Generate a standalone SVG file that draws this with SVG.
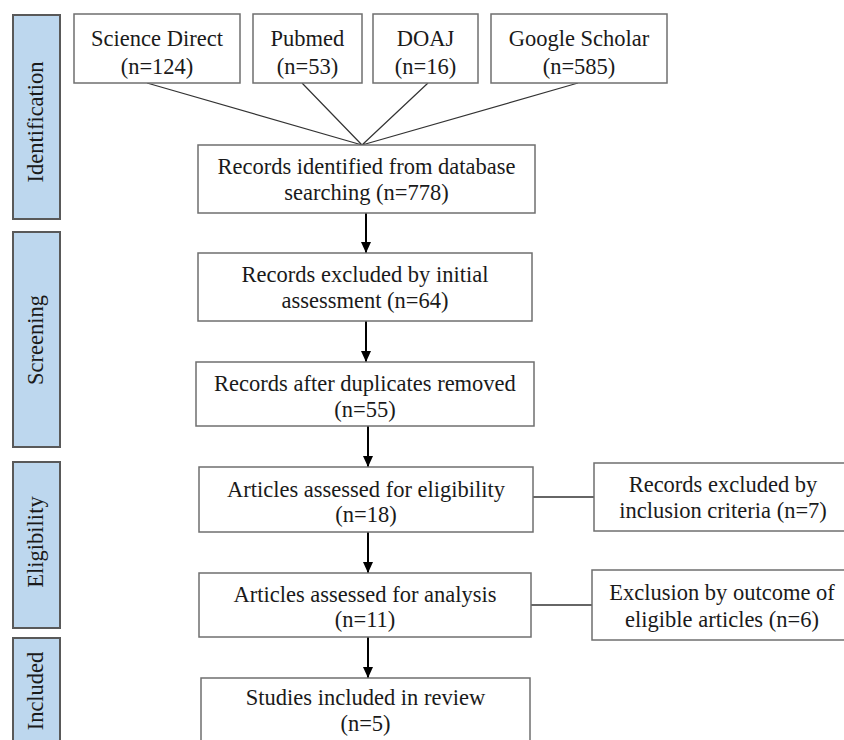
<svg xmlns="http://www.w3.org/2000/svg" width="844" height="740" viewBox="0 0 844 740">
<style>
.band{fill:#bdd7ee;stroke:#595959;stroke-width:2}
.box{fill:#fff;stroke:#6f6f6f;stroke-width:1.5}
text{font-family:"Liberation Serif","Times New Roman","DejaVu Serif",serif;font-size:22.5px;fill:#1a1a1a;text-anchor:middle}
.fan{stroke:#333;stroke-width:1.2;fill:none}
.arr{stroke:#000;stroke-width:2;fill:none}
.side{stroke:#333;stroke-width:1.3;fill:none}
</style>
<defs>
<marker id="ah" markerUnits="userSpaceOnUse" markerWidth="11" markerHeight="10" viewBox="0 0 11 10" refX="11" refY="5" orient="auto">
<path d="M0,0 L11,5 L0,10 z" fill="#000"/>
</marker>
</defs>
<rect width="844" height="740" fill="#fff"/>
<g id="phases">
<g id="band-identification"><rect class="band" x="13" y="15" width="47" height="204"/><text transform="translate(43,122) rotate(-90)">Identification</text></g>
<g id="band-screening"><rect class="band" x="13" y="232" width="47" height="215"/><text transform="translate(43,340) rotate(-90)">Screening</text></g>
<g id="band-eligibility"><rect class="band" x="13" y="462" width="47" height="166"/><text transform="translate(43,542) rotate(-90)">Eligibility</text></g>
<g id="band-included"><rect class="band" x="13" y="638" width="47" height="112"/><text transform="translate(43,691) rotate(-90)">Included</text></g>
</g>
<g id="connectors">
<path class="fan" d="M147,83 L362,145 M302,83 L362,145 M428,83 L362,145 M578,83 L362,145"/>
<line class="arr" x1="366" y1="213" x2="366" y2="253" marker-end="url(#ah)"/>
<line class="arr" x1="366" y1="321" x2="366" y2="362" marker-end="url(#ah)"/>
<line class="arr" x1="368" y1="426" x2="368" y2="467" marker-end="url(#ah)"/>
<line class="arr" x1="368" y1="532" x2="368" y2="573" marker-end="url(#ah)"/>
<line class="arr" x1="368" y1="637" x2="368" y2="678" marker-end="url(#ah)"/>
<line class="side" x1="533" y1="497" x2="594" y2="497"/>
<line class="side" x1="531" y1="605" x2="592" y2="605"/>
</g>
<g id="n-sciencedirect"><rect class="box" x="74" y="14" width="166" height="69"/><text x="157" y="46">Science Direct</text><text x="157" y="74">(n=124)</text></g>
<g id="n-pubmed"><rect class="box" x="253" y="14" width="109" height="69"/><text x="307.5" y="46">Pubmed</text><text x="307.5" y="74">(n=53)</text></g>
<g id="n-doaj"><rect class="box" x="373" y="14" width="105" height="69"/><text x="425.5" y="46">DOAJ</text><text x="425.5" y="74">(n=16)</text></g>
<g id="n-googlescholar"><rect class="box" x="491" y="14" width="176" height="69"/><text x="579" y="46">Google Scholar</text><text x="579" y="74">(n=585)</text></g>
<g id="n-identified"><rect class="box" x="198" y="145" width="337" height="68"/><text x="366.5" y="174">Records identified from database</text><text x="366.5" y="200">searching (n=778)</text></g>
<g id="n-excluded-initial"><rect class="box" x="198" y="253" width="334" height="68"/><text x="365" y="282">Records excluded by initial</text><text x="365" y="308">assessment (n=64)</text></g>
<g id="n-duplicates"><rect class="box" x="196" y="362" width="338" height="64"/><text x="365" y="391">Records after duplicates removed</text><text x="365" y="417">(n=55)</text></g>
<g id="n-eligibility"><rect class="box" x="199" y="467" width="334" height="65"/><text x="366" y="497">Articles assessed for eligibility</text><text x="366" y="522">(n=18)</text></g>
<g id="n-analysis"><rect class="box" x="199" y="573" width="332" height="64"/><text x="365" y="602">Articles assessed for analysis</text><text x="365" y="627">(n=11)</text></g>
<g id="n-included"><rect class="box" x="201" y="678" width="329" height="68"/><text x="365.5" y="705">Studies included in review</text><text x="365.5" y="731">(n=5)</text></g>
<g id="n-excl-inclusion"><rect class="box" x="594" y="463" width="258" height="68"/><text x="723" y="492">Records excluded by</text><text x="723" y="518">inclusion criteria (n=7)</text></g>
<g id="n-excl-outcome"><rect class="box" x="592" y="570" width="260" height="70"/><text x="722" y="600">Exclusion by outcome of</text><text x="722" y="627">eligible articles (n=6)</text></g>
</svg>
